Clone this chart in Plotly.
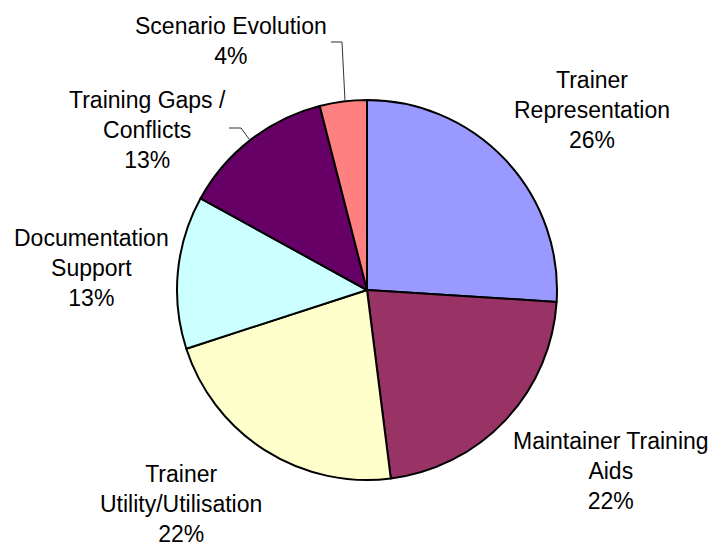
import plotly.graph_objects as go

labels = ["Trainer Representation", "Maintainer Training Aids", "Trainer Utility/Utilisation",
          "Documentation Support", "Training Gaps / Conflicts", "Scenario Evolution"]
label_lines = [["Trainer", "Representation"], ["Maintainer Training", "Aids"],
               ["Trainer", "Utility/Utilisation"], ["Documentation", "Support"],
               ["Training Gaps /", "Conflicts"], ["Scenario Evolution"]]
values = [26, 22, 22, 13, 13, 4]
colors = ["#9999FF", "#993366", "#FFFFCC", "#CCFFFF", "#660066", "#FF8080"]

W, H = 710, 545
OFF = 0  # body margin removed via post_script


def px(x):
    return (x - OFF) / W


def py(y):
    return 1 - (y - OFF) / H


# label centres in page pixels
label_pos = [(592, 110), (611, 471), (181, 504), (91, 268), (147, 130), (231, 41)]

fig = go.Figure(go.Pie(
    labels=labels, values=values, sort=False, direction="clockwise", rotation=0,
    marker=dict(colors=colors, line=dict(color="black", width=2)),
    textinfo="none", hoverinfo="label+percent", showlegend=False,
    domain=dict(x=[px(177), px(557)], y=[py(480), py(100)]),
))

total = sum(values)
annotations = []
for lines, v, (lx, ly) in zip(label_lines, values, label_pos):
    pct = f"{round(100 * v / total)}%"
    annotations.append(dict(
        text="<br>".join(lines + [pct]), x=px(lx), y=py(ly), xref="paper", yref="paper",
        xanchor="center", yanchor="middle", showarrow=False, align="center",
        font=dict(family="Liberation Sans, Arial, sans-serif", size=23, color="black"),
    ))

# leader lines
shapes = [
    dict(type="path", path=f"M {px(331)} {py(42)} L {px(342)} {py(42)} L {px(345)} {py(101)}",
         xref="paper", yref="paper", line=dict(color="#333333", width=1)),
    dict(type="path", path=f"M {px(229)} {py(128)} L {px(241)} {py(128)} L {px(249)} {py(139)}",
         xref="paper", yref="paper", line=dict(color="#333333", width=1)),
]

fig.update_layout(
    width=W, height=H, margin=dict(l=0, r=0, t=0, b=0),
    paper_bgcolor="white", plot_bgcolor="white",
    annotations=annotations, shapes=shapes,
)
fig.write_html(
    "out.html",
    config={"displayModeBar": False},
    post_script="document.body.style.margin='0';document.body.style.overflow='hidden';",
)
